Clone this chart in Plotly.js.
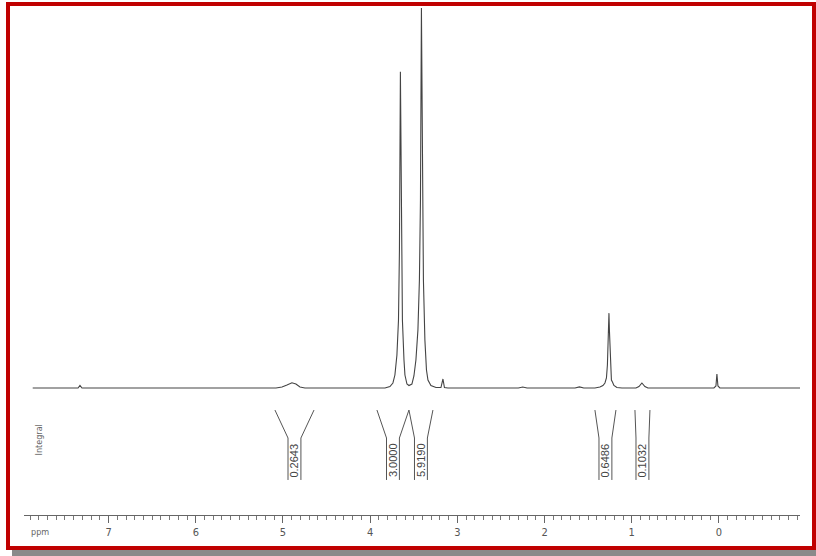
<!DOCTYPE html>
<html>
<head>
<meta charset="utf-8">
<script src="https://cdn.plot.ly/plotly-3.0.1.min.js"></script>
<style>
  body { margin:0; width:816px; height:556px; position:relative; overflow:hidden; background:#fff; }
  #chart { position:absolute; left:0; top:0; width:816px; height:556px; }
  #shadow { position:absolute; left:12px; top:550px; width:804px; height:6px; background:#8a8a8a; }
  #frame { position:absolute; left:6px; top:2px; width:810px; height:548px; box-sizing:border-box; border:4px solid #c00000; pointer-events:none; }
</style>
</head>
<body>
<div id="chart"></div>
<div id="shadow"></div>
<div id="frame"></div>
<script>
// Spectrum trace: chemical shift (ppm) and relative intensity (tallest peak = 100)
const ppm = [7.87, 7.35, 7.328, 7.305, 5.08, 5.011, 4.954, 4.897, 4.851, 4.805, 4.748,
  3.83, 3.773, 3.739, 3.716, 3.693, 3.675, 3.664, 3.653, 3.641, 3.63, 3.612, 3.601, 3.578, 3.555,
  3.521, 3.498, 3.475, 3.452, 3.435, 3.423, 3.412, 3.40, 3.389, 3.372, 3.354, 3.337, 3.303, 3.245,
  3.188, 3.165, 3.148, 3.108, 2.30, 2.25, 2.20, 1.65, 1.60, 1.55,
  1.422, 1.365, 1.33, 1.307, 1.29, 1.279, 1.267, 1.261, 1.256, 1.244, 1.233, 1.221, 1.204, 1.17, 1.112,
  0.952, 0.917, 0.883, 0.849, 0.814, 0.057, 0.034, 0.023, 0.011, -0.011, -0.93];
const intensity = [0, 0, 0.66, 0, 0, 0.26, 0.79, 1.39, 1.05, 0.26, 0,
  0, 0.39, 1.32, 3.42, 8.68, 17.9, 36.3, 83.2, 36.3, 17.9, 7.37, 3.42, 1.05, 0.66,
  1.05, 3.16, 7.37, 15.3, 28.4, 49.5, 100, 49.5, 28.4, 12.6, 4.74, 2.11, 0.66, 0.13,
  0.13, 2.37, 0.13, 0, 0, 0.25, 0, 0, 0.3, 0,
  0, 0.26, 0.66, 1.32, 2.63, 6.05, 15.3, 19.7, 15.3, 4.74, 2.11, 1.58, 0.66, 0.13, 0,
  0, 0.39, 1.32, 0.39, 0, 0, 0.53, 3.68, 0.53, 0, 0];

// Integration regions (ppm) and integral values
const integralFrom = [5.092, 3.922, 3.555, 1.422, 0.963];
const integralTo   = [4.644, 3.555, 3.280, 1.181, 0.791];
const integralValues = ['0.2643', '3.0000', '5.9190', '0.6486', '0.1032'];

// Axis ticks
const tickValues = [7, 6, 5, 4, 3, 2, 1, 0];
const tickLabels = ['7', '6', '5', '4', '3', '2', '1', '0'];

const lineColor = '#444';
const yTop = -5.8, yKnee = -13.16, yBot = -24.2, colHalf = 0.074;

const shapes = [];
const annotations = [];
for (let i = 0; i < integralValues.length; i++) {
  const a = integralFrom[i], b = integralTo[i];
  const mid = (a + b) / 2;
  const l = Math.min(a, mid + colHalf), r = Math.max(b, mid - colHalf);
  shapes.push({type:'path', xref:'x', yref:'y',
    path:`M ${a},${yTop} L ${l},${yKnee} L ${l},${yBot}`,
    line:{color:'#555', width:1}});
  shapes.push({type:'path', xref:'x', yref:'y',
    path:`M ${b},${yTop} L ${r},${yKnee} L ${r},${yBot}`,
    line:{color:'#555', width:1}});
  annotations.push({x: mid, y: (yKnee + yBot) / 2 - 0.3, xref:'x', yref:'y',
    text: integralValues[i], showarrow:false, textangle:-90,
    font:{family:'Liberation Sans, Arial, sans-serif', size:11, color:'#444'}});
}
annotations.push({x: (29 - 24) / 776, y: (515 - 532) / 510, xref:'paper', yref:'paper', xanchor:'left', yanchor:'middle',
  text:'ppm', showarrow:false, font:{family:'Liberation Sans Narrow, DejaVu Sans Condensed, sans-serif', size:9, color:'#666'}});
annotations.push({x: (31 - 24) / 776, y: (515 - 458) / 510, xref:'paper', yref:'paper', showarrow:false,
  text:'Integral', textangle:-90,
  font:{family:'Liberation Sans Narrow, DejaVu Sans Condensed, sans-serif', size:9, color:'#666'}});

const trace = {x: ppm, y: intensity, type:'scatter', mode:'lines',
  line:{color:lineColor, width:1.1}, hoverinfo:'skip'};

const layout = {
  width:816, height:556,
  margin:{l:24, r:16, t:5, b:41},
  paper_bgcolor:'rgba(0,0,0,0)', plot_bgcolor:'rgba(0,0,0,0)',
  showlegend:false,
  xaxis:{range:[7.97, -0.93], showgrid:false, zeroline:false,
    showline:true, linecolor:'#666', linewidth:1,
    ticks:'outside', ticklen:7, tickcolor:'#666', tickwidth:1,
    tickmode:'array', tickvals:tickValues, ticktext:tickLabels,
    tickfont:{family:'Liberation Sans Narrow, DejaVu Sans Condensed, sans-serif', size:11, color:'#555'},
    minor:{ticks:'outside', ticklen:4, tickcolor:'#777', tickwidth:1, dtick:0.1, tick0:0, showgrid:false}},
  yaxis:{range:[-33.42, 100.79], visible:false, fixedrange:true},
  shapes: shapes,
  annotations: annotations
};

Plotly.newPlot('chart', [trace], layout, {staticPlot:true, displayModeBar:false});
</script>
</body>
</html>
